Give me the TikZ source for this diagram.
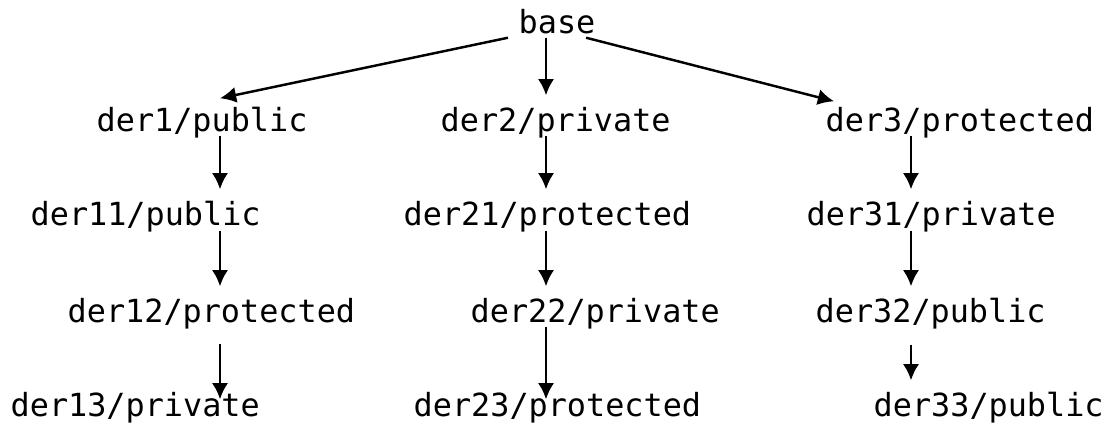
\documentclass[tikz,border=0pt]{standalone}
\usepackage{fontspec}
\setmonofont{DejaVu Sans Mono}
\usetikzlibrary{arrows.meta}
\tikzset{
  lbl/.style={anchor=base west, inner xsep=0pt, inner ysep=0pt,
    text height=0.35cm, text depth=0.04cm,
    font=\ttfamily\fontsize{9.05}{10}\selectfont},
  arr/.style={->, line width=0.7pt}
}
\begin{document}
\begin{tikzpicture}[>={Latex[length=4.6pt,width=4.6pt]}, x=0.01cm, y=-0.01cm]
    \useasboundingbox (0,0) rectangle (1109,426);
    % Cot cua cac mui ten
    \coordinate (c1) at (220,0);
    \coordinate (c2) at (546,0);
    \coordinate (c3) at (911,0);

    % Cac lop
    \node[lbl] (base) at (518,33) {base};
    \node[lbl] (der1) at (96,131) {der1/public};
    \node[lbl] (der2) at (440,131) {der2/private};
    \node[lbl] (der3) at (825,131) {der3/protected};
    \node[lbl] (der11) at (30,225) {der11/public};
    \node[lbl] (der21) at (403,225) {der21/protected};
    \node[lbl] (der31) at (806,225) {der31/private};
    \node[lbl] (der12) at (67,322) {der12/protected};
    \node[lbl] (der22) at (470,322) {der22/private};
    \node[lbl] (der32) at (815,322) {der32/public};
    \node[lbl] (der13) at (10,416) {der13/private};
    \node[lbl] (der23) at (413,416) {der23/protected};
    \node[lbl] (der33) at (873,416) {der33/public};

    % Ke thua tu base
    \draw[arr] ([xshift=-0.1cm]base.south west) -- ([yshift=-0.03cm]der1.north -| c1);
    \draw[arr] (base.south -| c2) -- (der2.north -| c2);
    \draw[arr] ([xshift=-0.1cm]base.south east) -- ([xshift=0.09cm,yshift=-0.06cm]der3.north west);

    % Cac nhanh doc
    \draw[arr] (der1.south -| c1) -- (der11.north -| c1);
    \draw[arr] ([yshift=-0.01cm]der11.south -| c1) -- (der12.north -| c1);
    \draw[arr, shorten <=0.17cm, shorten >=-0.19cm] (der12.south -| c1) -- (der13.north -| c1);
    \draw[arr] (der2.south -| c2) -- (der21.north -| c2);
    \draw[arr] ([yshift=-0.01cm]der21.south -| c2) -- (der22.north -| c2);
    \draw[arr, shorten >=-0.19cm] (der22.south -| c2) -- (der23.north -| c2);
    \draw[arr] (der3.south -| c3) -- (der31.north -| c3);
    \draw[arr] ([yshift=-0.01cm]der31.south -| c3) -- (der32.north -| c3);
    \draw[arr, shorten <=0.18cm] (der32.south -| c3) -- (der33.north -| c3);
\end{tikzpicture}
\end{document}
